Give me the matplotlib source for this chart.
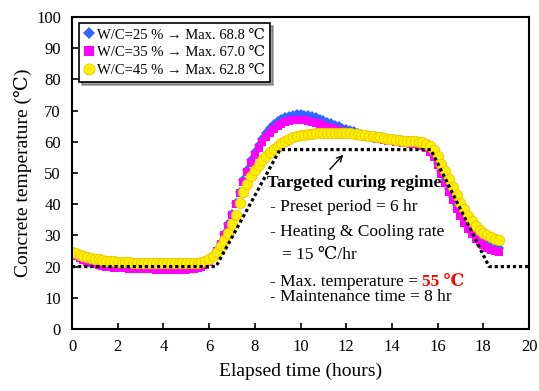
import numpy as np
import matplotlib
matplotlib.use("Agg")
import matplotlib.pyplot as plt

plt.rcParams['font.family'] = ['Liberation Serif', 'DejaVu Serif']

# measured every 10 min (0 ~ 18.67 hr)
wc25 = [24.3, 23.6, 23.0, 22.5, 22.0, 21.6, 21.3, 21.0, 20.8, 20.6, 20.4, 20.3, 20.2, 20.1, 20.0, 19.9, 19.9, 19.8, 19.8,
        19.7, 19.7, 19.7, 19.6, 19.6, 19.6, 19.6, 19.6, 19.6, 19.6, 19.6, 19.6, 19.7, 19.8, 20.0, 20.4, 21.0,
        22.0, 23.5, 25.4, 27.7, 30.4, 33.5, 36.8, 40.3, 44.0, 47.6, 51.0, 54.0, 56.7, 59.0, 61.0, 62.8, 64.3, 65.6,
        66.6, 67.4, 68.0, 68.4, 68.7, 68.8, 68.8, 68.7, 68.5, 68.2, 67.8, 67.4, 66.9, 66.4, 65.9, 65.4, 64.9, 64.5,
        64.1, 63.7, 63.3, 62.9, 62.6, 62.3, 62.0, 61.7, 61.5, 61.2, 61.0, 60.8, 60.6, 60.4, 60.2, 60.1, 59.9, 59.8,
        59.6, 59.4, 59.1, 58.5, 57.4, 55.6, 53.3, 50.6, 47.8, 45.0, 42.3, 39.8, 37.5, 35.4, 33.5, 31.9, 30.5, 29.3,
        28.3, 27.5, 26.8, 26.3, 25.9]
wc35 = [24.0, 23.3, 22.7, 22.1, 21.6, 21.2, 20.8, 20.5, 20.2, 20.0, 19.8, 19.7, 19.6, 19.5, 19.4, 19.3, 19.3, 19.2, 19.2,
        19.1, 19.1, 19.1, 19.0, 19.0, 19.0, 19.0, 19.0, 19.0, 19.0, 19.0, 19.0, 19.1, 19.2, 19.4, 19.8, 20.5,
        21.6, 23.1, 25.0, 27.3, 30.0, 33.1, 36.5, 40.0, 43.6, 47.1, 50.4, 53.3, 55.8, 58.0, 59.9, 61.5, 62.9, 64.0,
        64.9, 65.6, 66.2, 66.6, 66.9, 67.0, 67.0, 66.9, 66.7, 66.4, 66.0, 65.6, 65.2, 64.8, 64.4, 64.0, 63.6, 63.3,
        63.0, 62.7, 62.4, 62.1, 61.9, 61.6, 61.4, 61.2, 61.0, 60.8, 60.6, 60.4, 60.2, 60.0, 59.9, 59.7, 59.6, 59.4,
        59.3, 59.1, 58.7, 58.0, 56.8, 55.0, 52.6, 49.8, 46.9, 44.0, 41.2, 38.6, 36.2, 34.0, 32.1, 30.4, 29.0, 27.8,
        26.8, 26.0, 25.4, 24.9, 24.6]
wc45 = [24.6, 24.2, 23.8, 23.4, 23.1, 22.8, 22.5, 22.3, 22.1, 21.9, 21.8, 21.7, 21.6, 21.5, 21.4, 21.4, 21.3, 21.3, 21.2,
        21.2, 21.2, 21.1, 21.1, 21.1, 21.1, 21.0, 21.0, 21.0, 21.0, 21.0, 21.0, 21.0, 21.1, 21.2, 21.4, 21.7,
        22.3, 23.3, 24.8, 26.5, 28.5, 30.8, 33.5, 36.5, 40.5, 43.8, 46.6, 48.9, 50.8, 52.5, 54.0, 55.3, 56.6, 57.6,
        58.6, 59.6, 60.4, 61.0, 61.5, 61.8, 62.1, 62.3, 62.5, 62.6, 62.7, 62.8, 62.8, 62.9, 62.9, 62.9, 62.9, 62.8,
        62.8, 62.7, 62.6, 62.5, 62.3, 62.2, 62.0, 61.8, 61.6, 61.4, 61.2, 61.0, 60.8, 60.7, 60.5, 60.4, 60.3, 60.2,
        60.1, 60.0, 59.8, 59.4, 58.7, 57.3, 55.3, 53.0, 50.6, 48.0, 45.4, 42.9, 40.5, 38.3, 36.3, 34.6, 33.1, 31.8,
        30.9, 30.1, 29.5, 29.0, 28.6]

# targeted curing regime
target_t = [0, 6.3, 9.1, 15.7, 18.25, 20]
target_T = [20, 20, 57.5, 57.5, 20, 20]

labels = ['W/C=25 % \u2192 Max. 68.8 \u2103',
          'W/C=35 % \u2192 Max. 67.0 \u2103',
          'W/C=45 % \u2192 Max. 62.8 \u2103']

fig = plt.figure(figsize=(5.39, 3.91), dpi=100)
ax = fig.add_axes([0.1336, 0.1586, 0.8479, 0.798])

ax.plot(np.arange(len(wc25)) / 6.0, wc25, 'D', color='#3366FF', markersize=5.5, markeredgewidth=0, label=labels[0])
ax.plot(np.arange(len(wc35)) / 6.0, wc35, 's', color='#FF00FF', markersize=5.5, markeredgewidth=0, label=labels[1])
ax.plot(np.arange(len(wc45)) / 6.0, wc45, 'o', color='#FFEE00', markeredgecolor='#E8C800',
        markersize=7.5, markeredgewidth=0.6, label=labels[2])
ax.plot(target_t, target_T, color='black', lw=2.3, linestyle=(0, (1, 0.9)), zorder=5)

ax.set_xlim(0, 20)
ax.set_ylim(0, 100)
ax.set_xticks(np.arange(0, 21, 2))
ax.set_yticks(np.arange(0, 101, 10))
ax.tick_params(direction='in', length=4, width=1.2, labelsize=12, top=False, right=False)
ax.tick_params(axis='x', pad=7)
ax.tick_params(axis='y', pad=8)
for s in ax.spines.values():
    s.set_linewidth(1.5)

ax.set_xlabel('Elapsed time (hours)', fontsize=14, labelpad=6)
ax.set_ylabel('Concrete temperature (\u2103)', fontsize=14, labelpad=3)

leg = ax.legend(loc='upper left', bbox_to_anchor=(0.015, 0.98), fontsize=10.5, frameon=True,
                fancybox=False, shadow=True, handlelength=0.7, handletextpad=0.2,
                borderpad=0.35, labelspacing=0.3, borderaxespad=0)
leg.get_frame().set_edgecolor('black')
leg.get_frame().set_linewidth(1.2)
for h, ms in zip(leg.legend_handles, [6, 7, 8]):
    h.set_markersize(ms)

ax.annotate('', xy=(11.95, 56.5), xytext=(11.2, 50.5),
            arrowprops=dict(arrowstyle='->', color='black', lw=1.0))
fs = 12.5
ax.text(8.53, 46.8, 'Targeted curing regime', fontsize=fs, fontweight='bold', va='center')
ax.text(8.66, 39.1, '- Preset period = 6 hr', fontsize=fs, va='center')
ax.text(8.66, 31.1, '- Heating & Cooling rate', fontsize=fs, va='center')
ax.text(9.19, 23.7, '= 15 \u2103/hr', fontsize=fs, va='center')
t1 = ax.text(8.66, 15.7, '- Max. temperature = ', fontsize=fs, va='center_baseline')
ax.text(8.66, 10.3, '- Maintenance time = 8 hr', fontsize=fs, va='center')

fig.canvas.draw()
bb = t1.get_window_extent(fig.canvas.get_renderer())
x_end = ax.transData.inverted().transform((bb.x1, bb.y0))[0]
ax.text(x_end, 15.7, '55 \u2103', fontsize=fs, fontweight='bold', color='red', va='center_baseline')

fig.savefig('out.png', dpi=100)
